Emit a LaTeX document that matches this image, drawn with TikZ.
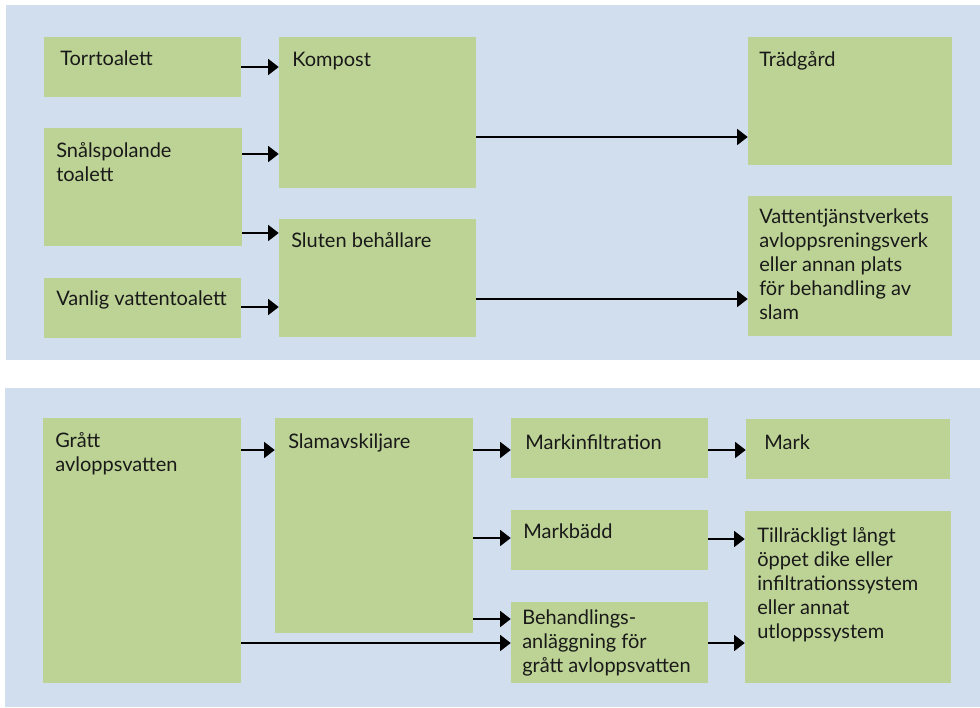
\documentclass[tikz,border=0pt]{standalone}
\usepackage{fontspec}
\setmainfont{Lato}
\usetikzlibrary{arrows.meta,fit}
\definecolor{bgblue}{RGB}{209,222,237}
\definecolor{boxgreen}{RGB}{189,211,149}
\newcommand\ml[1]{\begin{tabular}[t]{@{}l@{}}#1\end{tabular}}
\begin{document}
\begin{tikzpicture}[x=0.75pt,y=-0.75pt,
 panel/.style={fill=bgblue, draw=none, inner sep=0pt},
 box/.style={fill=boxgreen, draw=none, inner sep=0pt},
 txt/.style={anchor=base west, inner sep=0pt, font=\fontsize{15}{18}\selectfont, text=black!90},
 arr/.style={-{Triangle[length=8pt,width=12pt]}, line width=1.4pt, black}]
\useasboundingbox (0,0) rectangle (980,707);
\fill[white] (0,0) rectangle (980,707);
\node[panel, fit={(6,5) (980,360)}] (p1) {};
\node[panel, fit={(5,388) (980,707)}] (p2) {};
% top panel boxes
\node[box, fit={(44,37) (241,97)}] (torr) {};
\node[box, fit={(44,128) (242,246)}] (snal) {};
\node[box, fit={(44,278) (241,338)}] (vanl) {};
\node[box, fit={(279,37) (476,188)}] (komp) {};
\node[box, fit={(279,219) (476,337)}] (slut) {};
\node[box, fit={(748,37) (952,165)}] (trad) {};
\node[box, fit={(748,196) (952,336)}] (vatt) {};
% bottom panel boxes
\node[box, fit={(43,418) (241,683)}] (grat) {};
\node[box, fit={(275,418) (473,633)}] (slam) {};
\node[box, fit={(511,418) (708,478)}] (minf) {};
\node[box, fit={(511,510) (708,570)}] (mbad) {};
\node[box, fit={(511,602) (708,683)}] (beh) {};
\node[box, fit={(746,419) (950,479)}] (mark) {};
\node[box, fit={(745,511) (951,683)}] (till) {};
% texts
\node[txt] (ttorr) at (60,65) {Torrtoalett};
\node[txt] (tsnal) at (56,157) {\ml{Snålspolande\\toalett}};
\node[txt] (tvanl) at (56,305) {Vanlig vattentoalett};
\node[txt] (tkomp) at (292,66) {Kompost};
\node[txt] (tslut) at (291,247) {Sluten behållare};
\node[txt] (ttrad) at (759,66) {Trädgård};
\node[txt] (tvatt) at (759,223) {\ml{Vattentjänstverkets\\avloppsreningsverk\\eller annan plats\\för behandling av\\slam}};
\node[txt] (tgrat) at (55,447) {\ml{Grått\\avloppsvatten}};
\node[txt] (tslam) at (288,448) {Slamavskiljare};
\node[txt] (tminf) at (525,449) {Markinfiltration};
\node[txt] (tmark) at (764,449) {Mark};
\node[txt] (tmbad) at (523,538) {Markbädd};
\node[txt] (ttill) at (757,542) {\ml{Tillräckligt långt\\öppet dike eller\\infiltrationssystem\\eller annat\\utloppssystem}};
\node[txt] (tbeh) at (522,624) {\ml{Behandlings-\\anläggning för\\grått avloppsvatten}};
% arrows top
\draw[arr] (torr.east |- 0,67) -- (komp.west |- 0,67);
\draw[arr] (snal.east |- 0,154) -- (komp.west |- 0,154);
\draw[arr] (snal.east |- 0,233) -- (slut.west |- 0,233);
\draw[arr] (vanl.east |- 0,307) -- (slut.west |- 0,307);
\draw[arr] (komp.east |- 0,137) -- (trad.west |- 0,137);
\draw[arr] (slut.east |- 0,299) -- (vatt.west |- 0,299);
% arrows bottom
\draw[arr] (grat.east |- 0,450) -- (slam.west |- 0,450);
\draw[arr] (slam.east |- 0,450) -- (minf.west |- 0,450);
\draw[arr] (slam.east |- 0,538) -- (mbad.west |- 0,538);
\draw[arr] (slam.east |- 0,619) -- (beh.west |- 0,619);
\draw[arr] (grat.east |- 0,643) -- (beh.west |- 0,643);
\draw[arr] (minf.east |- 0,450) -- (mark.west |- 0,450);
\draw[arr] (mbad.east |- 0,539) -- (till.west |- 0,539);
\draw[arr] (beh.east |- 0,643) -- (till.west |- 0,643);
\end{tikzpicture}
\end{document}
